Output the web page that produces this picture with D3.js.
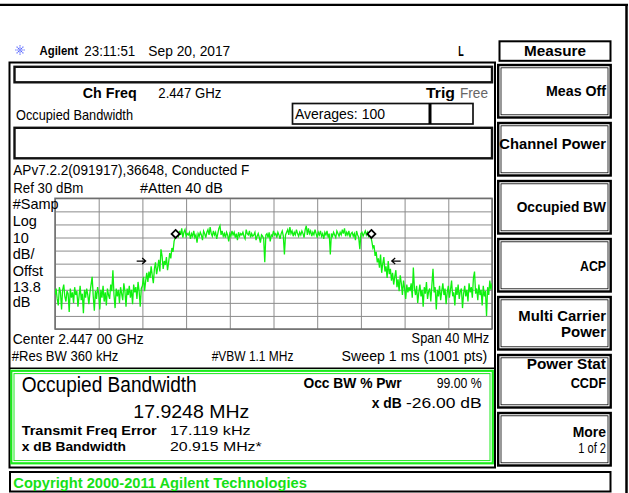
<!DOCTYPE html>
<html>
<head>
<meta charset="utf-8">
<script src="https://cdn.jsdelivr.net/npm/d3@7"></script>
<style>
    html, body { margin: 0; padding: 0; background: #fff; }
    svg { display: block; }
    text { font-family: "Liberation Sans", Arial, sans-serif; }
</style>
</head>
<body>
<div id="screen"></div>
<script>
// ---- Trace settings & values ----
const SPAN_MHZ = 40;          // -20 .. +20 MHz around centre
const REF_DBM = 30;
const DB_PER_DIV = 10;
const GRID_DIVS = 10;

// trace in dBm, one value per 0.1 MHz, split by region
const leftSkirt = [
    -44, -39, -47, -52, -38, -42, -55, -40, -36, -45,
    -49, -41, -43, -57, -39, -46, -42, -50, -38, -44,
    -41, -53, -45, -37, -48, -43, -58, -40, -46, -39,
    -44, -51, -42, -36, -30, -45, -56, -41, -47, -38,
    -43, -55, -40, -46, -37, -49, -42, -52, -39, -44,
    -47, -36, -41, -25, -44, -54, -39, -45, -40, -50,
    -38, -43, -48, -35, -41, -53, -39, -44, -37, -46,
    -40, -51, -36, -42, -38, -47, -34, -41, -53, -39
];
const riseLeft = [
    -37, -30, -41, -33, -27,
    -34, -26, -31, -22, -29, -35, -24, -19, -28,
    -23, -17, -26, -9, -14, -24, -18, -21, -15, -25, -19, -12,
    -16, -8, -11, -3, 0, 2
];
const inband = [
    3, 1, 5, 2, 7, 0, 4, 6, 1, 3,
    2, 4, -1, 3, 1, 5, 0, 2, -4, 3,
    1, 4, 2, -2, 5, 3, 0, 4, 6, 2,
    8, 3, 1, 5, 2, 4, -1, 3, 7, 9,
    2, 5, 1, 3, 0, 4, 2, -3, 3, 1,
    5, 2, 4, 0, 3, -2, 4, 1, 3, 2,
    4, 1, -1, 6, 3, 2, 5, 0, 3, 1,
    2, 4, -2, 1, 3, 0, -4, 2, 1, -1,
    -19, 2, 3, 0, 4, -3, 2, 1, 5, 2,
    3, 0, 4, 2, -1, 3, 5, 1, -13, 2,
    4, 6, 2, 8, 3, 5, 1, 4, 2, 6,
    3, 1, 4, 2, 5, 3, 0, 6, 9, 2,
    7, 3, 5, 1, 4, 2, 6, 3, 0, 4,
    2, 5, 1, 3, -1, 4, 2, 5, 0, 3,
    -13, 3, 1, 4, 2, 0, 5, 3, 1, 4,
    2, 6, 3, 7, 1, 4, 2, 5, 0, 3,
    4, 1, 3, -2, 5, 2, 0, -9, 3, 4,
    1, 3, 5, 2, 4, 1, 3
];
const fallRight = [
    1, -3, -8, -6, -14, -11, -19, -16, -23, -13,
    -27, -20, -15, -26, -22, -31, -18, -28, -24, -33,
    -27, -36, -30, -25, -38, -32, -41, -29, -35, -44,
    -33, -39, -47, -36, -42, -38
];
const rightSkirt = [
    -41, -35, -46, -23, -39, -44, -37, -50, -42, -36,
    -45, -40, -53, -38, -43, -34, -47, -41, -39, -49,
    -36, -24, -42, -38, -55, -40, -45, -37, -48, -41,
    -35, -44, -39, -51, -42, -37, -46, -40, -33, -45,
    -42, -52, -38, -44, -36, -47, -41, -39, -54, -43,
    -37, -45, -40, -49, -35, -42, -38, -46, -31, -26,
    -43, -39, -48, -36, -44, -40, -52, -37, -45, -41,
    -60, -38, -44, -33, -40, -35
];

// occupied-bandwidth markers and x dB arrows
const obwMarkersMHz = [-8.9624, 8.9624];
const obwMarkerDbm = 2.7;
const xdbArrowMHz = [-11.7, 10.82];
const xdbArrowDir = [1, -1];
const xdbArrowDbm = -18;

// softkey menu
const softkeyLabels = [
    ['Meas Off'], ['Channel Power'], ['Occupied BW'], ['ACP'],
    ['Multi Carrier', 'Power'], ['Power Stat', 'CCDF'], ['More', '1 of 2']
];

// ============================================================
const W = 629, H = 493;
const svg = d3.select('#screen').append('svg')
    .attr('width', W).attr('height', H);

svg.append('rect').attr('width', W).attr('height', H).attr('fill', '#fff');

function txt(g, t, x, y, o = {}) {
    const el = g.append('text')
        .attr('x', x).attr('y', y)
        .attr('dominant-baseline', 'central')
        .attr('text-anchor', o.anchor || 'start')
        .attr('font-size', o.size || 14.5)
        .attr('font-weight', o.bold ? 'bold' : 'normal')
        .attr('fill', o.fill || '#000')
        .text(t);
    if (o.w) el.attr('textLength', o.w).attr('lengthAdjust', 'spacingAndGlyphs');
    return el;
}

function box(x, y, w, h, stroke, sw) {
    return svg.append('rect')
        .attr('x', x).attr('y', y).attr('width', w).attr('height', h)
        .attr('fill', 'none').attr('stroke', stroke).attr('stroke-width', sw);
}

// --- outer screen edges ---
svg.append('line').attr('x1', 0).attr('x2', 628).attr('y1', 4.8).attr('y2', 4.8)
    .attr('stroke', '#000').attr('stroke-width', 2.2);
svg.append('line').attr('x1', 626.5).attr('x2', 626.5).attr('y1', 4).attr('y2', H)
    .attr('stroke', '#000').attr('stroke-width', 2.5);

// --- header ---
const star = svg.append('g').attr('transform', 'translate(20,50)');
d3.range(8).forEach(i => {
    const a = i * Math.PI / 4;
    star.append('line')
        .attr('x1', Math.cos(a) * 1.5).attr('y1', Math.sin(a) * 1.5)
        .attr('x2', Math.cos(a) * 5.5).attr('y2', Math.sin(a) * 5.5)
        .attr('stroke', '#4656ff').attr('stroke-width', 1.1)
        .attr('stroke-dasharray', '1.2,0.8');
});
star.append('rect').attr('x', -1.2).attr('y', -1.2).attr('width', 2.4).attr('height', 2.4)
    .attr('fill', '#8c96ff');

txt(svg, 'Agilent', 39.5, 50, { bold: true, size: 13, w: 38.5 });
txt(svg, '23:11:51', 84.3, 50, { size: 15.5, w: 51 });
txt(svg, 'Sep 20, 2017', 148.3, 50, { size: 15.5, w: 82 });
txt(svg, 'L', 458.3, 50, { bold: true, size: 15, w: 5.5 });

// --- main display frame ---
box(9.5, 62.5, 485.5, 405, '#000', 2);

// top status bar
box(14.5, 66.8, 477.5, 15.5, '#111', 2.4);
txt(svg, 'Ch Freq', 82.7, 93, { bold: true, size: 14.5, w: 54 });
txt(svg, '2.447 GHz', 158.3, 93, { w: 63 });
txt(svg, 'Trig', 426, 93, { bold: true, size: 14.5, w: 29 });
txt(svg, 'Free', 460, 93, { w: 28, fill: '#666' });
txt(svg, 'Occupied Bandwidth', 16, 114.5, { w: 117 });

// averages box
box(292.5, 103.5, 180.5, 20.5, '#111', 1.7);
svg.append('line').attr('x1', 430).attr('x2', 430).attr('y1', 103.5).attr('y2', 124)
    .attr('stroke', '#000').attr('stroke-width', 3);
txt(svg, 'Averages: 100', 295, 114, { size: 14, w: 90 });

// second (empty) bar
box(14.5, 127.8, 477.5, 30.5, '#111', 2.4);

txt(svg, 'APv7.2.2(091917),36648, Conducted F', 13.3, 170, { w: 236 });
txt(svg, 'Ref 30 dBm', 13.3, 188, { w: 70 });
txt(svg, '#Atten 40 dB', 140, 188, { w: 82.7 });

// --- spectrum plot ---
const plotL = 55, plotR = 492, plotT = 198.3, plotB = 329;
const x = d3.scaleLinear().domain([-SPAN_MHZ / 2, SPAN_MHZ / 2]).range([plotL, plotR]);
const y = d3.scaleLinear()
    .domain([REF_DBM - DB_PER_DIV * GRID_DIVS, REF_DBM])
    .range([plotB, plotT]);

const xGrid = d3.range(GRID_DIVS + 1).map(i => -SPAN_MHZ / 2 + i * SPAN_MHZ / GRID_DIVS);
const yGrid = d3.range(GRID_DIVS + 1).map(i => REF_DBM - i * DB_PER_DIV);

const plot = svg.append('g');
plot.append('g')
    .attr('transform', `translate(0,${plotB})`)
    .call(d3.axisBottom(x).tickValues(xGrid).tickSize(-(plotB - plotT)).tickFormat(''))
    .call(g => g.select('.domain').remove())
    .selectAll('line').attr('stroke', '#8c8c8c').attr('stroke-width', 1);
plot.append('g')
    .attr('transform', `translate(${plotL},0)`)
    .call(d3.axisLeft(y).tickValues(yGrid).tickSize(-(plotR - plotL)).tickFormat(''))
    .call(g => g.select('.domain').remove())
    .selectAll('line').attr('stroke', '#8c8c8c').attr('stroke-width', 1);
plot.append('rect')
    .attr('x', plotL).attr('y', plotT).attr('width', plotR - plotL).attr('height', plotB - plotT)
    .attr('fill', 'none').attr('stroke', '#6e6e6e').attr('stroke-width', 1.5);

// y-axis side labels
[['#Samp', 203.7], ['Log', 220.5], ['10', 237.5], ['dB/', 253.5],
 ['Offst', 270.5], ['13.8', 286.5], ['dB', 301.5]].forEach(([t, yy]) =>
    txt(svg, t, 12.7, yy, { size: 14.5 }));

// trace
const trace = [].concat(leftSkirt, riseLeft, inband, fallRight, rightSkirt);
const stepMHz = SPAN_MHZ / (trace.length - 1);
svg.append('clipPath').attr('id', 'plot-clip')
    .append('rect').attr('x', plotL).attr('y', plotT)
    .attr('width', plotR - plotL).attr('height', plotB - plotT);
plot.append('path')
    .datum(trace)
    .attr('clip-path', 'url(#plot-clip)')
    .attr('d', d3.line()
        .x((d, i) => x(-SPAN_MHZ / 2 + i * stepMHz))
        .y(d => y(d)))
    .attr('fill', 'none')
    .attr('stroke', '#10f010')
    .attr('stroke-width', 1.3)
    .attr('stroke-linejoin', 'miter');

// OBW diamond markers
obwMarkersMHz.forEach(f => {
    const cx = x(f), cy = y(obwMarkerDbm);
    plot.append('path')
        .attr('d', `M${cx},${cy - 4} L${cx + 4},${cy} L${cx},${cy + 4} L${cx - 4},${cy} Z`)
        .attr('fill', '#fff').attr('stroke', '#000').attr('stroke-width', 1.8);
});

// x dB arrows
xdbArrowMHz.forEach((f, i) => {
    const tx = x(f), ty = y(xdbArrowDbm), d = xdbArrowDir[i];
    plot.append('path')
        .attr('d', `M${tx - d * 9},${ty} L${tx},${ty} M${tx - d * 3.5},${ty - 3} L${tx},${ty} L${tx - d * 3.5},${ty + 3}`)
        .attr('fill', 'none').attr('stroke', '#000').attr('stroke-width', 1.2);
});

// below plot
txt(svg, 'Center 2.447 00 GHz', 12.7, 339, { w: 131 });
txt(svg, 'Span 40 MHz', 489.3, 338, { w: 77.7, anchor: 'end' });
txt(svg, '#Res BW 360 kHz', 11.7, 356, { size: 14, w: 106.7 });
txt(svg, '#VBW 1.1 MHz', 211.7, 356, { size: 14, w: 81.7 });
txt(svg, 'Sweep 1 ms (1001 pts)', 487.3, 356, { size: 14, w: 145.7, anchor: 'end' });

// --- result box ---
svg.append('line').attr('x1', 9.5).attr('x2', 495).attr('y1', 368.3).attr('y2', 368.3)
    .attr('stroke', '#000').attr('stroke-width', 1.5);
box(11.3, 370.8, 481.5, 92.5, '#1aeb1a', 2.2);
box(14, 373.6, 476, 87, '#1aeb1a', 1);

txt(svg, 'Occupied Bandwidth', 21.7, 385, { size: 21.5, w: 175 });
txt(svg, '17.9248 MHz', 133.3, 411, { size: 19, w: 116 });
txt(svg, 'Transmit Freq Error', 21.7, 430, { bold: true, size: 13.5, w: 135 });
txt(svg, '17.119 kHz', 170, 430.5, { size: 13.5, w: 80.7 });
txt(svg, 'x dB Bandwidth', 21.7, 446.7, { bold: true, size: 13.5, w: 104.3 });
txt(svg, '20.915 MHz*', 170, 446.7, { size: 13.5, w: 91.7 });

txt(svg, 'Occ BW % Pwr', 401.7, 382.7, { bold: true, size: 14, w: 98.3, anchor: 'end' });
txt(svg, '99.00 %', 481.7, 382.7, { w: 45, anchor: 'end' });
txt(svg, 'x dB', 401.7, 402.5, { bold: true, size: 14, w: 30, anchor: 'end' });
txt(svg, '-26.00 dB', 481.7, 402.5, { w: 75.7, anchor: 'end' });

// --- copyright bar ---
box(10, 472, 600.5, 19.5, '#000', 2);
txt(svg, 'Copyright 2000-2011 Agilent Technologies', 13.3, 482.5,
    { bold: true, size: 14, w: 293.5, fill: '#16e016' });

// --- softkey menu ---
box(499.5, 41.3, 111, 19.5, '#000', 2);
txt(svg, 'Measure', 555, 50.5, { bold: true, size: 15, w: 62, anchor: 'middle' });

const keyTops = [64, 122, 180, 238, 296, 354, 412];
const keyH = 54;
const keyLabelY = [[90], [143.3], [206.7], [265], [315, 331.7], [363.5, 382.7], [431, 448.3]];
const keyLabelW = [[60], [106.7], [89.3], [26], [87.7, 45], [79.3, 35.3], [33.3, 27.7]];

softkeyLabels.forEach((lines, k) => {
    box(498.2, keyTops[k] + 1, 112.5, keyH - 1.5, '#000', 2.4);
    box(501, keyTops[k] + 3.8, 107, keyH - 7, '#000', 0.8);
    lines.forEach((t, j) => {
        const plain = (k === 6 && j === 1);
        txt(svg, t, 606, keyLabelY[k][j],
            { bold: !plain, size: plain ? 14.5 : 15, w: keyLabelW[k][j], anchor: 'end' });
    });
});
</script>
</body>
</html>
